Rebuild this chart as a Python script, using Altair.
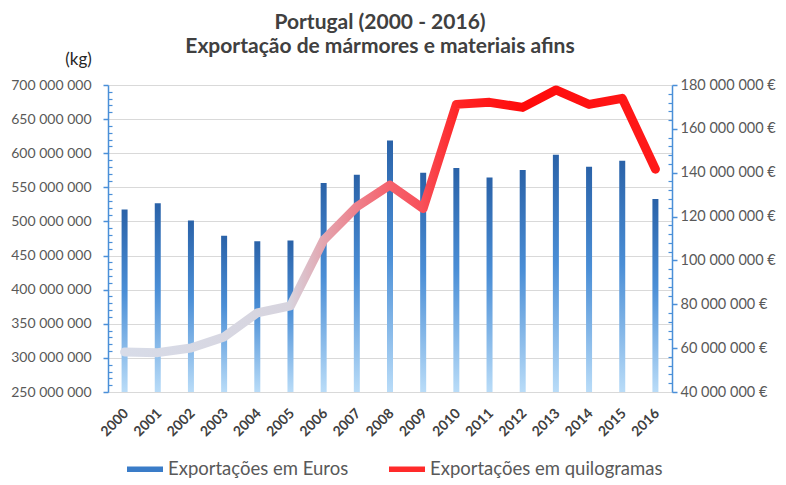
import altair as alt
import pandas as pd

# ---- data ----
years = [str(y) for y in range(2000, 2017)]
euros_m = [123.2, 126.1, 118.2, 111.2, 108.8, 109.1, 135.3, 139.1, 154.7,
           140.0, 142.1, 137.8, 141.2, 148.2, 142.7, 145.5, 128.0]
kg_m = [308.7, 307.7, 314.6, 330.7, 366.0, 376.2, 472.6, 521.5, 553.3,
        519.0, 671.6, 674.6, 667.2, 692.7, 671.6, 680.4, 576.7]
series = ["Exportações em Euros", "Exportações em quilogramas"]
kg_ticks = [250e6 + 50e6 * i for i in range(10)]
eur_ticks = [40e6 + 20e6 * i for i in range(8)]
kg_minor = [250e6 + 10e6 * i for i in range(46) if i % 5]
eur_minor = [40e6 + 4e6 * i for i in range(36) if i % 5]
eur_base = 40e6

df = pd.DataFrame({"ano": years,
                   "euros": [v * 1e6 for v in euros_m],
                   "kg": [v * 1e6 for v in kg_m]})
leg = pd.DataFrame({"serie": series})

FONT = "Lato"
AXBLUE = "#4a8fd8"
GRID = "#d9d9d9"

x = alt.X("ano:O", title=None,
          scale=alt.Scale(paddingInner=0, paddingOuter=0),
          axis=alt.Axis(labelAngle=-45, labelFont=FONT, labelFontSize=14,
                        labelFontWeight="bold", labelColor="#404040",
                        ticks=False, domainColor=GRID, labelPadding=14,
                        labelOffset=-3))

kg_scale = alt.Scale(domain=[250e6, 700e6], nice=False, zero=False)
eur_scale = alt.Scale(domain=[40e6, 180e6], nice=False, zero=False)

lbl_kg = "replace(format(datum.value, ',d'), /,/g, ' ')"
lbl_eur = "replace(format(datum.value, ',d'), /,/g, ' ') + ' €'"

bar_grad = alt.Gradient(
    gradient="linear", x1=0, y1=0, x2=0, y2=1,
    stops=[alt.GradientStop(offset=0, color="#2a62a8"),
           alt.GradientStop(offset=0.45, color="#4a8ed6"),
           alt.GradientStop(offset=1, color="#b9dcf8")])

line_grad = alt.Gradient(
    gradient="linear", x1=0, y1=0, x2=1, y2=0,
    stops=[alt.GradientStop(offset=0, color="#d8dce8"),
           alt.GradientStop(offset=0.31, color="#d7d4de"),
           alt.GradientStop(offset=0.375, color="#e3a5af"),
           alt.GradientStop(offset=0.44, color="#ee7f8a"),
           alt.GradientStop(offset=0.5, color="#f5626c"),
           alt.GradientStop(offset=0.56, color="#f7505a"),
           alt.GradientStop(offset=0.63, color="#ff2424"),
           alt.GradientStop(offset=0.75, color="#ff0a0a"),
           alt.GradientStop(offset=1, color="#ff1a1a")])

base = alt.Chart(df)

minor_left = base.mark_line(opacity=0).encode(
    x=x,
    y=alt.Y("kg:Q", scale=kg_scale,
            axis=alt.Axis(orient="left", values=kg_minor, labels=False,
                          domain=False, grid=False, tickSize=4, offset=-4,
                          tickColor=AXBLUE, tickWidth=1.2, title=None)))

minor_right = base.mark_line(opacity=0).encode(
    x=x,
    y=alt.Y("euros:Q", scale=eur_scale,
            axis=alt.Axis(orient="right", values=eur_minor, labels=False,
                          domain=False, grid=False, tickSize=4, offset=-4,
                          tickColor=AXBLUE, tickWidth=1.2, title=None)))

bars = base.mark_bar(size=6, fill=bar_grad).encode(
    x=x,
    y=alt.Y("euros:Q", scale=eur_scale,
            axis=alt.Axis(orient="right", values=eur_ticks, grid=False,
                          domainColor=AXBLUE, domainWidth=1.5,
                          tickColor=AXBLUE, tickSize=5, tickWidth=1.5,
                          labelFont=FONT, labelFontSize=14.5,
                          labelColor="#595959", labelPadding=3,
                          labelExpr=lbl_eur, title=None)),
    y2=alt.datum(eur_base))

line = base.mark_line(stroke=line_grad, strokeWidth=9, strokeJoin="round",
                      strokeCap="round").encode(
    x=x,
    y=alt.Y("kg:Q", scale=kg_scale,
            axis=alt.Axis(orient="left", values=kg_ticks, grid=True,
                          gridColor=GRID, gridWidth=1,
                          domainColor=AXBLUE, domainWidth=1.5,
                          tickColor=AXBLUE, tickSize=5, tickWidth=1.5,
                          labelFont=FONT, labelFontSize=14,
                          labelColor="#595959", labelPadding=12,
                          labelExpr=lbl_kg,
                          title="(kg)", titleAngle=0, titleX=-30, titleY=-26,
                          titleAlign="center", titleBaseline="middle",
                          titleFont=FONT, titleFontSize=17,
                          titleFontWeight="normal", titleColor="#262626")))

legend_layer = alt.Chart(leg).mark_square(opacity=0).encode(
    color=alt.Color("serie:N",
                    scale=alt.Scale(domain=series,
                                    range=["#3a7cc8", "#ff2a2a"]),
                    legend=alt.Legend(orient="none", legendX=19, legendY=366,
                                      direction="horizontal", title=None,
                                      symbolType="M-1,-0.15L1,-0.15L1,0.15L-1,0.15Z",
                                      symbolSize=1296, symbolOpacity=1,
                                      symbolStrokeWidth=0,
                                      labelFont=FONT, labelFontSize=18.5,
                                      labelColor="#595959", labelOffset=5,
                                      columnPadding=40, padding=0,
                                      labelLimit=400)))

chart = alt.layer(minor_left, minor_right, bars, line, legend_layer).resolve_scale(
    y="independent"
).properties(
    width=564, height=307,
    autosize=alt.AutoSizeParams(type="none"),
    padding={"left": 100, "top": 77, "right": 106, "bottom": 90},
    title=alt.TitleParams(
        text=["Portugal (2000 - 2016)", "Exportação de mármores e materiais afins"],
        font=FONT, fontSize=21, fontWeight="bold", color="#404040",
        lineHeight=24.5, anchor="middle", dx=-10, offset=-7),
).configure_view(stroke=None)

chart.save("out.html", embed_options={"renderer": "svg", "actions": False})
